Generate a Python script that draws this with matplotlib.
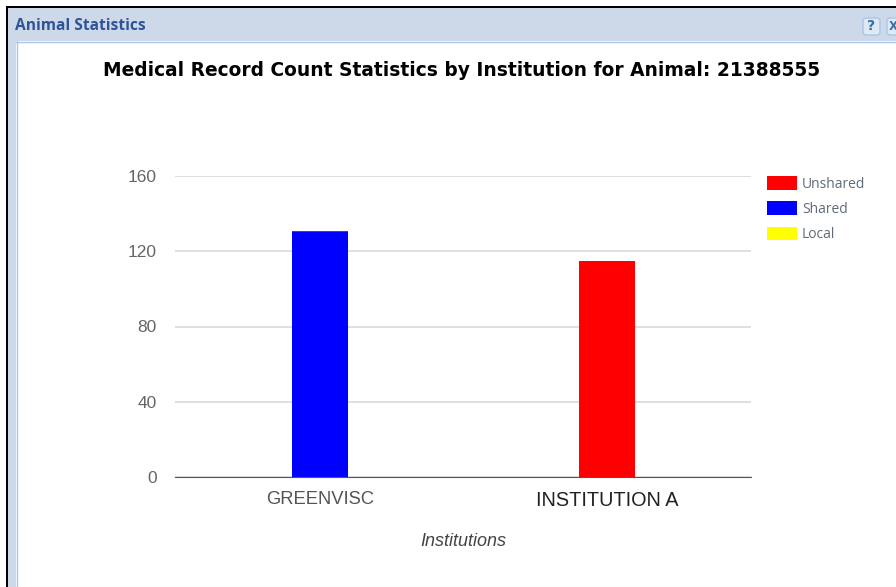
import matplotlib
matplotlib.use('Agg')
import matplotlib.pyplot as plt
from matplotlib.patches import Rectangle, FancyBboxPatch

institutions = ['GREENVISC', 'INSTITUTION A']
local = [0, 0]
shared = [130, 0]
unshared = [1, 115]
y_ticks = [0, 40, 80, 120, 160]

W, H = 896, 587
fig = plt.figure(figsize=(W / 100, H / 100), dpi=100, facecolor='white')

# window frame, drawn in pixel coordinates
bg = fig.add_axes([0, 0, 1, 1])
bg.set_xlim(0, W)
bg.set_ylim(H, 0)
bg.axis('off')
bg.add_patch(Rectangle((6, 6), W - 6, H - 6, fc='black', ec='none'))
bg.add_patch(Rectangle((8, 8), W - 8, H - 8, fc='#cdd9e8', ec='none'))
bg.add_patch(Rectangle((16, 41), W - 16, H - 41, fc='white', ec='none'))
bg.plot([16, W], [41.5, 41.5], color='#a9c5e8', lw=1)
bg.plot([16.5, 16.5], [41, H], color='#a9c5e8', lw=1)
bg.text(15, 26, 'Animal Statistics', color='#2f5597', fontsize=11.2, fontweight='bold',
        family='Open Sans', va='center', ha='left')
bg.add_patch(FancyBboxPatch((863, 18), 17, 17, boxstyle='round,pad=0,rounding_size=3',
                            fc='#dfe9f5', ec='#a9c5e8', lw=1))
bg.text(871.5, 26.5, '?', color='#3f6fa8', fontsize=10, fontweight='bold',
        ha='center', va='center')
# close button runs off the right edge in the reference
bg.add_patch(FancyBboxPatch((887, 18), 17, 17, boxstyle='round,pad=0,rounding_size=3',
                            fc='#dfe9f5', ec='#a9c5e8', lw=1))
bg.text(888.5, 26.5, 'X', color='#3f6fa8', fontsize=8.5, fontweight='bold',
        ha='left', va='center')

bg.text(462, 71, 'Medical Record Count Statistics by Institution for Animal: 21388555',
        color='black', fontsize=13.4, fontweight='bold', family='DejaVu Sans',
        ha='center', va='center')

# chart
ax = fig.add_axes([175 / W, 1 - 477 / H, 576 / W, 301 / H])
ax.patch.set_alpha(0)
pos = [0, 1]
ax.bar(pos, local, 0.195, color='#ffff00', label='Local')
ax.bar(pos, shared, 0.195, bottom=local, color='#0000ff', label='Shared')
bottoms = [a + b for a, b in zip(local, shared)]
ax.bar(pos, unshared, 0.195, bottom=bottoms, color='#ff0000', label='Unshared')

ax.set_xlim(-0.505, 1.502)
ax.set_ylim(0, 160)
ax.set_yticks(y_ticks)
ax.set_xticks(pos)
ax.set_xticklabels(institutions, family='Liberation Sans')
ax.get_xticklabels()[0].set(fontsize=13.2, color='#555555')
ax.get_xticklabels()[1].set(fontsize=14.3, color='#222222')
ax.tick_params(axis='x', length=0, pad=10)
ax.tick_params(axis='y', length=0, pad=13, labelsize=12.5, labelcolor='#666666')
for lab in ax.get_yticklabels():
    lab.set_family('Liberation Sans')
ax.grid(axis='y', color='#d9d9d9', lw=1.2)
ax.set_axisbelow(True)
for s in ['top', 'right', 'left']:
    ax.spines[s].set_visible(False)
ax.spines['bottom'].set_color('#555555')
ax.set_xlabel('Institutions', family='Liberation Sans', style='italic', fontsize=13,
              color='#444444', labelpad=17)

# legend
handles, labels = ax.get_legend_handles_labels()
leg = fig.legend(handles[::-1], labels[::-1], loc='upper left',
                 bbox_to_anchor=(763 / W, 1 - 172 / H), frameon=False,
                 handlelength=2.15, handleheight=1.15, handletextpad=0.35,
                 labelspacing=0.69, borderpad=0.3, borderaxespad=0,
                 prop={'family': 'Open Sans', 'size': 10})
for t in leg.get_texts():
    t.set_color('#5f6b78')

fig.savefig('out.png', dpi=100)
